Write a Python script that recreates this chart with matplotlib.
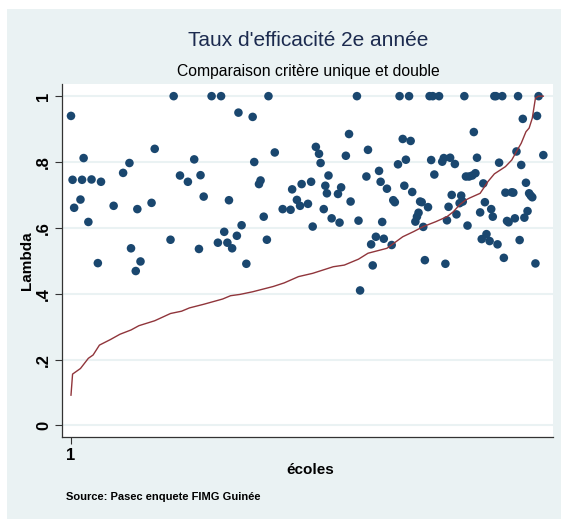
"""
Taux d'efficacité 2e année - nuage de points + courbe triée (style Stata s2color)
"""
import matplotlib
matplotlib.use('Agg')

import matplotlib.pyplot as plt
from matplotlib.patches import Rectangle

plt.rcParams['font.family'] = ['Liberation Sans', 'DejaVu Sans']

# rang des écoles (1..300) et lambda (critère unique) pour chaque école observée
ecole_rang = [1, 2, 3, 7, 8, 9, 12, 14, 18, 20, 28, 34, 38, 39, 42, 43, 45, 52, 54, 64,
              66, 70, 75, 79, 82, 83, 85, 90, 94, 96, 98, 100, 101, 103, 106, 107, 109, 112, 116, 117,
              120, 121, 123, 125, 126, 130, 135, 140, 141, 144, 146, 147, 151, 153, 154, 156, 158, 159, 161, 162,
              163, 164, 166, 170, 171, 172, 175, 177, 178, 182, 183, 184, 188, 189, 191, 192, 194, 196, 197, 198,
              199, 201, 204, 205, 206, 208, 209, 211, 212, 213, 215, 216, 217, 219, 220, 221, 222, 223, 224, 225,
              227, 228, 229, 230, 231, 234, 236, 237, 238, 239, 240, 241, 242, 244, 245, 247, 248, 249, 250, 251,
              252, 253, 255, 256, 257, 258, 260, 261, 262, 263, 264, 266, 267, 268, 269, 270, 271, 272, 274, 275,
              276, 277, 278, 280, 281, 282, 283, 284, 285, 286, 287, 288, 289, 290, 291, 292, 293, 295, 296, 297,
              300]
lambda_unique = [0.940, 0.746, 0.661, 0.686, 0.746, 0.812, 0.618, 0.747, 0.493, 0.740,
                 0.667, 0.767, 0.797, 0.538, 0.469, 0.657, 0.498, 0.676, 0.840, 0.564,
                 1.0, 0.759, 0.740, 0.808, 0.536, 0.760, 0.695, 1.0, 0.555, 1.0,
                 0.588, 0.555, 0.684, 0.538, 0.576, 0.950, 0.608, 0.491, 0.937, 0.800,
                 0.733, 0.744, 0.634, 0.564, 1.0, 0.829, 0.657, 0.655, 0.717, 0.685,
                 0.667, 0.733, 0.673, 0.740, 0.604, 0.846, 0.825, 0.797, 0.657, 0.728,
                 0.705, 0.759, 0.629, 0.703, 0.616, 0.723, 0.819, 0.885, 0.680, 1.0,
                 0.622, 0.410, 0.756, 0.837, 0.550, 0.486, 0.573, 0.773, 0.740, 0.618,
                 0.567, 0.719, 0.548, 0.684, 0.678, 0.793, 1.0, 0.870, 0.728, 0.807,
                 1.0, 0.864, 0.709, 0.619, 0.634, 0.646, 0.680, 0.678, 0.603, 0.502,
                 0.663, 1.0, 0.806, 1.0, 0.762, 1.0, 0.801, 0.812, 0.491, 0.623,
                 0.664, 0.813, 0.700, 0.794, 0.641, 0.675, 0.698, 0.680, 1.0, 0.756,
                 0.607, 0.756, 0.759, 0.891, 0.766, 0.813, 0.647, 0.566, 0.735, 0.678,
                 0.581, 0.560, 0.657, 0.634, 1.0, 1.0, 0.550, 0.798, 1.0, 0.509,
                 0.707, 0.621, 0.617, 0.708, 0.707, 0.629, 0.832, 1.0, 0.563, 0.791,
                 0.931, 0.631, 0.737, 0.651, 0.705, 0.698, 0.693, 0.492, 0.940, 1.0,
                 0.821]

# courbe triée (critère double)
courbe_rang = [1, 2, 7, 12, 15, 19, 26, 32, 39, 44, 54, 64, 71, 76, 85, 97, 102, 108, 116, 129,
               136, 145, 154, 167, 174, 183, 189, 201, 211, 218, 224, 232, 239, 243, 247, 251, 253, 260, 265, 269,
               276, 280, 283, 286, 289, 291, 293, 295, 297, 300]
lambda_double = [0.092, 0.156, 0.173, 0.204, 0.214, 0.244, 0.261, 0.277, 0.290, 0.303,
                 0.318, 0.340, 0.347, 0.357, 0.368, 0.384, 0.394, 0.398, 0.406, 0.422,
                 0.433, 0.452, 0.462, 0.482, 0.487, 0.505, 0.523, 0.538, 0.573, 0.589,
                 0.604, 0.619, 0.634, 0.649, 0.670, 0.685, 0.690, 0.705, 0.741, 0.764,
                 0.786, 0.806, 0.832, 0.857, 0.892, 0.903, 0.933, 0.994, 1.0, 1.0]

y_ticks = [0, 0.2, 0.4, 0.6, 0.8, 1.0]
y_labels = ['0', '.2', '.4', '.6', '.8', '1']

W, H = 561, 519
fig = plt.figure(figsize=(W / 100, H / 100), dpi=100, facecolor='white')

# fond du graphique (style Stata)
fig.patches.append(Rectangle((7 / W, 0), 1 - 7 / W, (H - 9) / H, transform=fig.transFigure,
                             facecolor='#EAF2F3', edgecolor='none', zorder=-10))

ax = fig.add_axes([62.3 / W, (H - 436.5) / H, (552.5 - 62.3) / W, (436.5 - 84.3) / H])
ax.set_zorder(1)
ax.set_facecolor('white')

ax.scatter(ecole_rang, lambda_unique, s=38, color='#1A476F', edgecolors='none', zorder=3)
ax.plot(courbe_rang, lambda_double, color='#90353B', linewidth=1.0, zorder=4)

ax.set_xlim(-4.5, 305.8)
ax.set_ylim(-0.0335, 1.036)

ax.set_yticks(y_ticks)
ax.set_yticklabels(y_labels, rotation=90, va='center', fontsize=12, fontweight='bold')
ax.set_xticks([1])
ax.set_xticklabels(['1'], fontsize=12, fontweight='bold')
ax.tick_params(axis='both', length=5, width=0.8, color='#333333', pad=3)

ax.yaxis.grid(True, color='#EAF2F3', linewidth=1.5)
ax.set_axisbelow(True)

for side in ['top', 'right']:
    ax.spines[side].set_visible(False)
for side in ['left', 'bottom']:
    ax.spines[side].set_color('#333333')
    ax.spines[side].set_linewidth(0.9)

ax.set_ylabel('Lambda', fontsize=11, fontweight='bold')
ax.yaxis.set_label_coords(-0.058, 0.5)

fig.text(308 / W, 1 - 40 / H, "Taux d'efficacité 2e année", ha='center', va='center',
         fontsize=15, color='#1C2B4F')
fig.text(308 / W, 1 - 72 / H, 'Comparaison critère unique et double', ha='center', va='center',
         fontsize=11.3, color='black')
fig.text(310 / W, 1 - 470 / H, 'écoles', ha='center', va='center',
         fontsize=11, fontweight='bold', color='black')
fig.text(66 / W, 1 - 497 / H, 'Source: Pasec enquete FIMG Guinée', ha='left', va='center',
         fontsize=8, fontweight='bold', color='black')

plt.savefig('out.png', dpi=100, facecolor='white')
plt.close()
